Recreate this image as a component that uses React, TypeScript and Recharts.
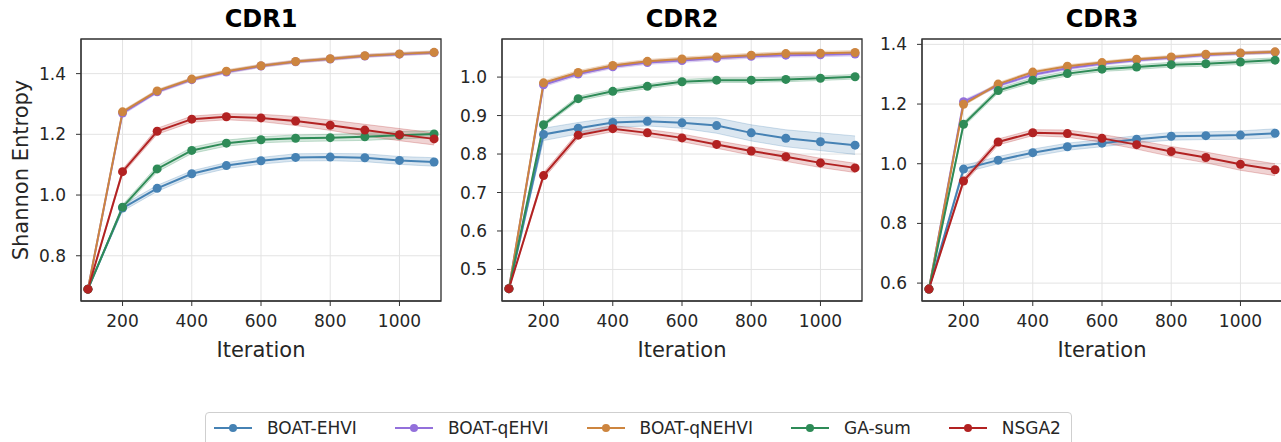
import React from 'react'
import { ComposedChart, Line, Area, XAxis, YAxis, CartesianGrid, ReferenceArea } from 'recharts'

const FONT = "'DejaVu Sans', sans-serif"
const INK = '#262626'

const ITERATIONS = [100, 200, 300, 400, 500, 600, 700, 800, 900, 1000, 1100]
const X_TICKS = [200, 400, 600, 800, 1000]

// CDR1
const ehvi1 = [0.69, 0.957, 1.022, 1.07, 1.097, 1.113, 1.124, 1.125, 1.123, 1.114, 1.109]
const ehvi1Sd = [0, 0.01, 0.01, 0.01, 0.01, 0.011, 0.012, 0.012, 0.013, 0.013, 0.014]
const qehvi1 = [0.69, 1.27, 1.34, 1.38, 1.405, 1.425, 1.439, 1.448, 1.458, 1.464, 1.469]
const qehvi1Sd = [0, 0.006, 0.005, 0.005, 0.005, 0.005, 0.005, 0.005, 0.005, 0.005, 0.005]
const qnehvi1 = [0.69, 1.274, 1.343, 1.382, 1.408, 1.426, 1.44, 1.449, 1.459, 1.465, 1.47]
const qnehvi1Sd = [0, 0.005, 0.005, 0.005, 0.005, 0.005, 0.005, 0.005, 0.005, 0.005, 0.005]
const ga1 = [0.69, 0.96, 1.086, 1.147, 1.171, 1.182, 1.187, 1.189, 1.192, 1.197, 1.201]
const ga1Sd = [0, 0.008, 0.01, 0.01, 0.01, 0.01, 0.011, 0.011, 0.012, 0.012, 0.012]
const nsga1 = [0.69, 1.077, 1.21, 1.25, 1.258, 1.254, 1.244, 1.23, 1.214, 1.199, 1.185]
const nsga1Sd = [0, 0.008, 0.01, 0.01, 0.01, 0.012, 0.015, 0.017, 0.019, 0.02, 0.02]

// CDR2
const ehvi2 = [0.45, 0.851, 0.867, 0.882, 0.885, 0.881, 0.874, 0.855, 0.841, 0.832, 0.823]
const ehvi2Sd = [0, 0.016, 0.015, 0.013, 0.012, 0.014, 0.02, 0.021, 0.022, 0.023, 0.024]
const qehvi2 = [0.45, 0.98, 1.008, 1.027, 1.038, 1.043, 1.049, 1.054, 1.057, 1.058, 1.06]
const qehvi2Sd = [0, 0.005, 0.005, 0.005, 0.005, 0.005, 0.005, 0.005, 0.005, 0.005, 0.005]
const qnehvi2 = [0.45, 0.985, 1.012, 1.03, 1.041, 1.047, 1.052, 1.057, 1.061, 1.062, 1.064]
const qnehvi2Sd = [0, 0.005, 0.005, 0.005, 0.005, 0.005, 0.005, 0.005, 0.005, 0.005, 0.005]
const ga2 = [0.45, 0.876, 0.944, 0.963, 0.976, 0.988, 0.992, 0.992, 0.994, 0.997, 1.001]
const ga2Sd = [0, 0.005, 0.006, 0.006, 0.006, 0.006, 0.006, 0.006, 0.006, 0.006, 0.006]
const nsga2 = [0.45, 0.744, 0.849, 0.866, 0.855, 0.842, 0.825, 0.808, 0.793, 0.777, 0.764]
const nsga2Sd = [0, 0.008, 0.008, 0.008, 0.009, 0.01, 0.01, 0.011, 0.012, 0.012, 0.012]

// CDR3
const ehvi3 = [0.58, 0.982, 1.012, 1.037, 1.057, 1.069, 1.082, 1.092, 1.094, 1.096, 1.102]
const ehvi3Sd = [0, 0.012, 0.012, 0.012, 0.012, 0.012, 0.012, 0.013, 0.013, 0.014, 0.015]
const qehvi3 = [0.58, 1.208, 1.262, 1.298, 1.32, 1.335, 1.347, 1.355, 1.364, 1.37, 1.374]
const qehvi3Sd = [0, 0.006, 0.005, 0.005, 0.005, 0.005, 0.005, 0.005, 0.005, 0.005, 0.005]
const qnehvi3 = [0.58, 1.199, 1.267, 1.307, 1.327, 1.339, 1.35, 1.358, 1.367, 1.371, 1.375]
const qnehvi3Sd = [0, 0.005, 0.005, 0.005, 0.005, 0.005, 0.005, 0.005, 0.005, 0.005, 0.005]
const ga3 = [0.58, 1.132, 1.245, 1.28, 1.302, 1.317, 1.324, 1.332, 1.335, 1.341, 1.347]
const ga3Sd = [0, 0.008, 0.008, 0.008, 0.008, 0.008, 0.008, 0.008, 0.008, 0.008, 0.008]
const nsga3 = [0.58, 0.942, 1.073, 1.104, 1.101, 1.085, 1.064, 1.041, 1.021, 0.998, 0.98]
const nsga3Sd = [0, 0.01, 0.01, 0.01, 0.012, 0.013, 0.015, 0.017, 0.018, 0.02, 0.02]

const SERIES = [
  { key: 'ehvi', name: 'BOAT-EHVI', color: '#4682b4' },
  { key: 'qehvi', name: 'BOAT-qEHVI', color: '#9370db' },
  { key: 'qnehvi', name: 'BOAT-qNEHVI', color: '#cd853f' },
  { key: 'ga', name: 'GA-sum', color: '#2e8b57' },
  { key: 'nsga', name: 'NSGA2', color: '#b22222' },
]

function buildRows(means: number[][], spreads: number[][]) {
  return ITERATIONS.map((it, i) => {
    const row: Record<string, unknown> = { it }
    SERIES.forEach((s, k) => {
      row[s.key] = means[k][i]
      row[s.key + 'Band'] = [means[k][i] - spreads[k][i], means[k][i] + spreads[k][i]]
    })
    return row
  })
}

const PANELS = [
  {
    title: 'CDR1',
    left: 0,
    width: 450,
    yAxisWidth: 81,
    yDomain: [0.651, 1.514],
    yTicks: [0.8, 1.0, 1.2, 1.4],
    yLabel: true,
    rows: buildRows([ehvi1, qehvi1, qnehvi1, ga1, nsga1], [ehvi1Sd, qehvi1Sd, qnehvi1Sd, ga1Sd, nsga1Sd]),
  },
  {
    title: 'CDR2',
    left: 452,
    width: 420,
    yAxisWidth: 50,
    yDomain: [0.418, 1.099],
    yTicks: [0.5, 0.6, 0.7, 0.8, 0.9, 1.0],
    yLabel: false,
    rows: buildRows([ehvi2, qehvi2, qnehvi2, ga2, nsga2], [ehvi2Sd, qehvi2Sd, qnehvi2Sd, ga2Sd, nsga2Sd]),
  },
  {
    title: 'CDR3',
    left: 870,
    width: 420,
    yAxisWidth: 52,
    yDomain: [0.54, 1.418],
    yTicks: [0.6, 0.8, 1.0, 1.2, 1.4],
    yLabel: false,
    rows: buildRows([ehvi3, qehvi3, qnehvi3, ga3, nsga3], [ehvi3Sd, qehvi3Sd, qnehvi3Sd, ga3Sd, nsga3Sd]),
  },
]

const PLOT_W = 360
const X_DOMAIN = [80, 1120]

// eslint-disable-next-line @typescript-eslint/no-explicit-any
const YLabel = ({ viewBox }: any) => {
  const bx = viewBox.x + 28
  const by = viewBox.y + viewBox.height / 2
  return (
    <text
      x={bx}
      y={by}
      transform={`rotate(-90 ${bx} ${by})`}
      textAnchor="middle"
      fill={INK}
      fontSize={21}
      fontFamily={FONT}
    >
      Shannon Entropy
    </text>
  )
}

function Panel({ panel }: { panel: (typeof PANELS)[number] }) {
  const tickStyle = { fill: INK, fontSize: 17, fontFamily: FONT }
  return (
    <div style={{ position: 'absolute', left: panel.left, top: 0 }}>
      <div
        style={{
          position: 'absolute',
          left: panel.yAxisWidth,
          width: PLOT_W,
          top: 7,
          textAlign: 'center',
          fontFamily: FONT,
          fontWeight: 'bold',
          fontSize: 24,
          lineHeight: '24px',
          color: '#000',
        }}
      >
        {panel.title}
      </div>
      <ComposedChart
        width={panel.width}
        height={380}
        data={panel.rows}
        margin={{ top: 39, right: panel.width - panel.yAxisWidth - PLOT_W, bottom: 19, left: 0 }}
      >
        <CartesianGrid stroke="#e3e3e3" strokeWidth={1} />
        <XAxis
          dataKey="it"
          type="number"
          domain={X_DOMAIN}
          ticks={X_TICKS}
          allowDataOverflow
          height={60}
          tick={tickStyle}
          tickSize={5}
          tickMargin={9}
          tickLine={{ stroke: '#333' }}
          axisLine={{ stroke: '#333' }}
          label={{ value: 'Iteration', position: 'insideBottom', offset: 4, fill: INK, fontSize: 21, fontFamily: FONT }}
        />
        <YAxis
          type="number"
          domain={panel.yDomain}
          ticks={panel.yTicks}
          allowDataOverflow
          width={panel.yAxisWidth}
          tick={tickStyle}
          tickSize={5}
          tickMargin={10}
          tickLine={{ stroke: '#333' }}
          axisLine={{ stroke: '#333' }}
          tickFormatter={(v: number) => v.toFixed(1)}
          label={panel.yLabel ? { content: YLabel } : undefined}
        />
        {SERIES.flatMap((s) => [
          <Area
            key={s.key + 'Band'}
            type="linear"
            dataKey={s.key + 'Band'}
            stroke={s.color}
            strokeOpacity={0.25}
            strokeWidth={1}
            fill={s.color}
            fillOpacity={0.2}
            dot={false}
            activeDot={false}
            isAnimationActive={false}
          />,
          <Line
            key={s.key}
            type="linear"
            dataKey={s.key}
            name={s.name}
            stroke={s.color}
            strokeWidth={2}
            dot={{ r: 4.5, fill: s.color, stroke: s.color, strokeWidth: 0 }}
            activeDot={false}
            isAnimationActive={false}
          />,
        ])}
        <ReferenceArea
          x1={X_DOMAIN[0]}
          x2={X_DOMAIN[1]}
          y1={panel.yDomain[0]}
          y2={panel.yDomain[1]}
          fill="none"
          stroke="#333"
          strokeWidth={1.3}
        />
      </ComposedChart>
    </div>
  )
}

function LegendBox() {
  return (
    <div
      style={{
        position: 'absolute',
        left: 205,
        top: 412,
        height: 40,
        boxSizing: 'border-box',
        border: '1px solid #cfcfcf',
        borderRadius: 4,
        padding: '0 10px 0 8px',
        display: 'flex',
        alignItems: 'flex-start',
        paddingTop: 5,
        background: '#fff',
      }}
    >
      {SERIES.map((s, i) => (
        <div
          key={s.key}
          style={{ display: 'flex', alignItems: 'center', marginLeft: i === 0 ? 0 : 38, height: 20 }}
        >
          <svg width={38} height={12} style={{ display: 'block' }}>
            <line x1={0} y1={6} x2={38} y2={6} stroke={s.color} strokeWidth={2} />
            <circle cx={19} cy={6} r={4} fill={s.color} />
          </svg>
          <span
            style={{
              marginLeft: 15,
              fontFamily: FONT,
              fontSize: 17,
              color: INK,
              lineHeight: '20px',
              whiteSpace: 'nowrap',
            }}
          >
            {s.name}
          </span>
        </div>
      ))}
    </div>
  )
}

export default function App() {
  return (
    <div
      style={{
        position: 'absolute',
        left: 0,
        top: 0,
        width: 1281,
        height: 442,
        overflow: 'hidden',
        background: '#fff',
      }}
    >
      {PANELS.map((p) => (
        <Panel key={p.title} panel={p} />
      ))}
      <LegendBox />
    </div>
  )
}
